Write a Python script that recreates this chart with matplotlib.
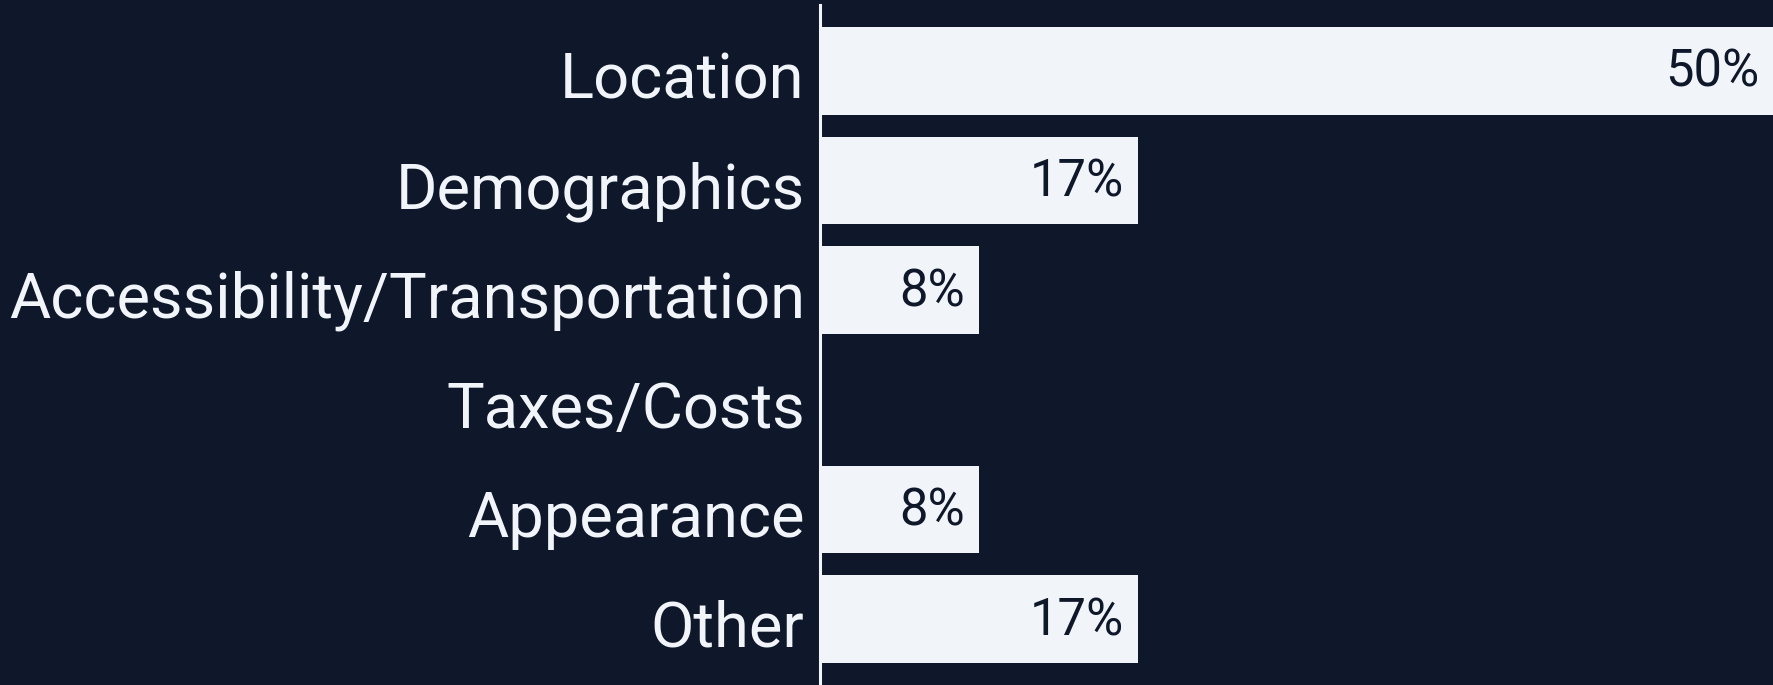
import matplotlib
matplotlib.use("Agg")
import matplotlib.pyplot as plt
import matplotlib.transforms as mtransforms

categories = ["Location", "Demographics", "Accessibility/Transportation",
              "Taxes/Costs", "Appearance", "Other"]
values = [50.0, 16.67, 8.33, 0.0, 8.33, 16.67]
value_labels = ["50%", "17%", "8%", "", "8%", "17%"]

BG = "#0f172a"
BAR = "#f1f5f9"
TXT = "#0f172a"

plt.rcParams['font.family'] = ['Roboto', 'DejaVu Sans']

W, H, DPI = 1773, 685, 100
fig = plt.figure(figsize=(W / DPI, H / DPI), dpi=DPI, facecolor=BG)
ax = fig.add_axes([820 / W, 0, (W - 820) / W, 680 / H])
ax.set_facecolor(BG)

y = list(range(len(categories)))
ax.barh(y, values, height=0.8, color=BAR, edgecolor="none")
ax.set_xlim(0, 50)
ax.set_ylim(len(categories) - 0.4, -0.6)
ax.set_yticks(y)
ax.set_yticklabels(categories, fontsize=45.5, color=BAR)
ax.tick_params(axis="y", length=0, pad=11)
shift = mtransforms.ScaledTranslation(0, -3 / 72, fig.dpi_scale_trans)
for lbl in ax.get_yticklabels():
    lbl.set_transform(lbl.get_transform() + shift)
ax.set_xticks([])
for s in ["top", "right", "bottom"]:
    ax.spines[s].set_visible(False)
ax.spines["left"].set_color(BAR)
ax.spines["left"].set_linewidth(2.2)

for yi, v, lab in zip(y, values, value_labels):
    if lab:
        ax.annotate(lab, xy=(v, yi), xytext=(-10, -1.5), textcoords="offset points",
                    ha="right", va="center", fontsize=36.5, color=TXT)

fig.savefig("out.png", dpi=DPI, facecolor=BG)
